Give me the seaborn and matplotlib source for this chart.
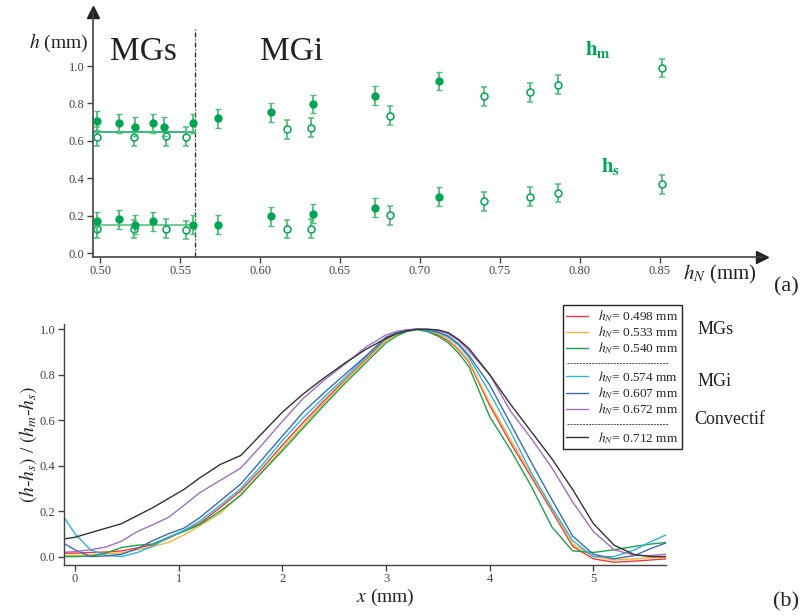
import numpy as np
import pandas as pd
import matplotlib
matplotlib.use("Agg")
import matplotlib.pyplot as plt
from matplotlib.lines import Line2D
import seaborn as sns

# ---------------- panel (a) : h_m et h_s en fonction de h_N ----------------
HN_PLEIN = [0.498, 0.512, 0.522, 0.533, 0.540, 0.558, 0.574, 0.607, 0.633, 0.672, 0.712]
HM_PLEIN = [0.707, 0.693, 0.675, 0.693, 0.675, 0.693, 0.721, 0.753, 0.797, 0.842, 0.920]
HN_PLEIN_S = [0.498, 0.512, 0.522, 0.533, 0.558, 0.574, 0.607, 0.633, 0.672, 0.712]
HS_PLEIN = [0.169, 0.181, 0.151, 0.169, 0.151, 0.151, 0.197, 0.210, 0.242, 0.301]

HN_VIDE = [0.498, 0.521, 0.541, 0.554, 0.617, 0.632, 0.681, 0.740, 0.769, 0.786, 0.851]
HM_VIDE = [0.622, 0.622, 0.625, 0.622, 0.661, 0.671, 0.734, 0.838, 0.859, 0.900, 0.989]
HS_VIDE = [0.128, 0.128, 0.131, 0.124, 0.128, 0.131, 0.202, 0.276, 0.301, 0.321, 0.367]

ERREUR = 0.05
HM_MOYEN = 0.65
HS_MOYEN = 0.15
HN_SEUIL = 0.5595

# ---------------- panel (b) : profils normalises ----------------
X_MM = [-0.1, 0.0, 0.15, 0.3, 0.45, 0.6, 0.75, 0.9, 1.05, 1.2, 1.4, 1.6, 1.8, 2.0,
        2.2, 2.4, 2.6, 2.8, 3.0, 3.1, 3.2, 3.3, 3.4, 3.5, 3.6, 3.7, 3.8, 4.0, 4.2,
        4.4, 4.6, 4.8, 5.0, 5.2, 5.4, 5.55, 5.7]

P_0498 = [0.015, 0.015, 0.018, 0.020, 0.025, 0.038, 0.052, 0.080, 0.115, 0.145, 0.215,
          0.290, 0.385, 0.490, 0.590, 0.685, 0.775, 0.865, 0.955, 0.980, 0.995, 1.000,
          0.990, 0.975, 0.950, 0.910, 0.855, 0.665, 0.500, 0.350, 0.200, 0.045, -0.010,
          -0.025, -0.020, -0.015, -0.010]
P_0533 = [0.005, 0.005, 0.008, 0.012, 0.016, 0.030, 0.044, 0.062, 0.095, 0.135, 0.190,
          0.275, 0.370, 0.475, 0.575, 0.675, 0.770, 0.860, 0.950, 0.978, 0.993, 1.000,
          0.995, 0.980, 0.955, 0.915, 0.860, 0.675, 0.515, 0.360, 0.210, 0.055, 0.000,
          -0.015, -0.010, -0.005, -0.003]
P_0540 = [0.000, 0.000, 0.002, 0.015, 0.040, 0.050, 0.055, 0.085, 0.110, 0.140, 0.200,
          0.270, 0.370, 0.465, 0.565, 0.665, 0.760, 0.850, 0.940, 0.970, 0.990, 0.998,
          0.990, 0.970, 0.940, 0.895, 0.835, 0.615, 0.470, 0.310, 0.130, 0.025, 0.018,
          0.030, 0.045, 0.055, 0.062]
P_0574 = [0.169, 0.100, 0.030, 0.005, 0.000, 0.018, 0.045, 0.085, 0.115, 0.155, 0.225,
          0.300, 0.400, 0.510, 0.610, 0.700, 0.785, 0.875, 0.960, 0.983, 0.996, 1.000,
          0.995, 0.985, 0.965, 0.930, 0.875, 0.720, 0.550, 0.370, 0.215, 0.070, 0.000,
          0.000, 0.030, 0.065, 0.095]
P_0607 = [0.056, 0.030, 0.000, 0.003, 0.010, 0.035, 0.070, 0.100, 0.125, 0.170, 0.245,
          0.320, 0.425, 0.530, 0.635, 0.720, 0.800, 0.880, 0.965, 0.985, 0.997, 1.000,
          0.998, 0.988, 0.970, 0.935, 0.885, 0.755, 0.585, 0.415, 0.250, 0.090, 0.010,
          -0.010, 0.005, 0.035, 0.060]
P_0672 = [0.019, 0.022, 0.030, 0.042, 0.068, 0.110, 0.140, 0.172, 0.225, 0.280, 0.335,
          0.390, 0.490, 0.595, 0.695, 0.775, 0.845, 0.920, 0.975, 0.990, 0.998, 1.000,
          1.000, 0.995, 0.980, 0.950, 0.905, 0.800, 0.640, 0.520, 0.390, 0.240, 0.110,
          0.030, 0.005, 0.005, 0.010]
P_0712 = [0.078, 0.085, 0.105, 0.125, 0.145, 0.180, 0.215, 0.255, 0.295, 0.345, 0.405,
          0.445, 0.540, 0.635, 0.715, 0.785, 0.850, 0.910, 0.960, 0.980, 0.993, 1.000,
          1.000, 0.997, 0.985, 0.955, 0.915, 0.800, 0.670, 0.550, 0.430, 0.295, 0.145,
          0.050, 0.008, 0.000, 0.000]

LABELS = ["0.498", "0.533", "0.540", "0.574", "0.607", "0.672", "0.712"]
PROFILS = [P_0498, P_0533, P_0540, P_0574, P_0607, P_0672, P_0712]
COULEURS = ["#ee3a3a", "#f7b23b", "#1ba34a", "#2bb5e6", "#3a6db5", "#a56cc1", "#333333"]

VERT = "#00a551"
VERT_CLAIR = "#4cbf78"

sns.set_theme(style="ticks")
plt.rcParams["font.family"] = ["Liberation Serif", "DejaVu Serif"]
plt.rcParams["mathtext.fontset"] = "stix"
plt.rcParams["axes.edgecolor"] = "#444444"
plt.rcParams["xtick.color"] = "#444444"
plt.rcParams["ytick.color"] = "#444444"

fig = plt.figure(figsize=(8.02, 6.15), dpi=100)
W, H = 802, 615

# ---------------- (a) ----------------
ax1 = fig.add_axes([93 / W, 1 - 257 / H, (762 - 93) / W, (257 - 12) / H])
ax1.set_xlim(0.4956, 0.9138)
ax1.set_ylim(-0.021, 1.289)

ax1.plot([0.4956, HN_SEUIL], [HM_MOYEN, HM_MOYEN], color=VERT, lw=1.1, zorder=1)
ax1.plot([0.4956, HN_SEUIL], [HS_MOYEN, HS_MOYEN], color=VERT_CLAIR, lw=1.1, zorder=1)
ax1.plot([HN_SEUIL, HN_SEUIL], [-0.021, 1.198], color="#222222", lw=0.9,
         linestyle=(0, (4, 1.5, 1, 1.5)), zorder=1)

for hn, h in [(HN_VIDE, HM_VIDE), (HN_VIDE, HS_VIDE)]:
    ax1.errorbar(hn, h, yerr=ERREUR, fmt="o", ms=5, mfc="white", mec=VERT, mew=1.1,
                 ecolor=VERT_CLAIR, elinewidth=1.3, capsize=2.5, capthick=1.1, zorder=3)
for hn, h in [(HN_PLEIN, HM_PLEIN), (HN_PLEIN_S, HS_PLEIN)]:
    ax1.errorbar(hn, h, yerr=ERREUR, fmt="o", ms=5, mfc=VERT, mec=VERT, mew=1.0,
                 ecolor=VERT_CLAIR, elinewidth=1.3, capsize=2.5, capthick=1.1, zorder=4)

ax1.set_xticks([0.50, 0.55, 0.60, 0.65, 0.70, 0.75, 0.80, 0.85])
ax1.set_xticklabels(["0.50", "0.55", "0.60", "0.65", "0.70", "0.75", "0.80", "0.85"])
ax1.set_yticks([0.0, 0.2, 0.4, 0.6, 0.8, 1.0])
ax1.set_yticklabels(["0.0", "0.2", "0.4", "0.6", "0.8", "1.0"])
ax1.tick_params(labelsize=9, length=4, width=1, pad=2)
sns.despine(ax=ax1)
for s in ["left", "bottom"]:
    ax1.spines[s].set_linewidth(1.2)
ax1.plot(1, 0, ">", color="#222222", ms=8, transform=ax1.transAxes, clip_on=False)
ax1.plot(0, 1, "^", color="#222222", ms=8, transform=ax1.transAxes, clip_on=False)

fig.text(88 / W, 1 - 43 / H, r"$h$ (mm)", ha="right", va="center", fontsize=14, color="#222222")
fig.text(143 / W, 1 - 52 / H, "MGs", ha="center", va="center", fontsize=24, color="#222222")
fig.text(292 / W, 1 - 52 / H, "MGi", ha="center", va="center", fontsize=24, color="#222222")
fig.text(598 / W, 1 - 50 / H, r"$\mathbf{h_m}$", ha="center", va="center", fontsize=15, color=VERT)
fig.text(611 / W, 1 - 167 / H, r"$\mathbf{h_s}$", ha="center", va="center", fontsize=15, color=VERT)
fig.text(720 / W, 1 - 274 / H, r"$h_N$ (mm)", ha="center", va="center", fontsize=15, color="#222222")
fig.text(786 / W, 1 - 287 / H, "(a)", ha="center", va="center", fontsize=16, color="#222222")

# ---------------- (b) ----------------
ax2 = fig.add_axes([64 / W, 1 - 565 / H, (666 - 64) / W, (565 - 324) / H])
lignes = []
for lab, prof in zip(LABELS, PROFILS):
    lignes.append(pd.DataFrame({"x": X_MM, "y": prof, "hN": lab}))
df = pd.concat(lignes, ignore_index=True)
sns.lineplot(data=df, x="x", y="y", hue="hN", hue_order=LABELS,
             palette=dict(zip(LABELS, COULEURS)), estimator=None, sort=False,
             linewidth=1.0, legend=False, ax=ax2)

ax2.set_xlim(-0.106, 5.70)
ax2.set_ylim(-0.037, 1.023)
ax2.set_xticks([0, 1, 2, 3, 4, 5])
ax2.set_yticks([0.0, 0.2, 0.4, 0.6, 0.8, 1.0])
ax2.set_yticklabels(["0.0", "0.2", "0.4", "0.6", "0.8", "1.0"])
ax2.set_xlabel("")
ax2.set_ylabel("")
ax2.tick_params(labelsize=9, length=4, width=1, pad=2)
sns.despine(ax=ax2)
for s in ["left", "bottom"]:
    ax2.spines[s].set_linewidth(1.0)

# legende avec separateurs
handles, labels = [], []
groupes = [LABELS[:3], LABELS[3:6], LABELS[6:]]
for gi, grp in enumerate(groupes):
    if gi > 0:
        handles.append(Line2D([], [], linestyle="none"))
        labels.append(" ")
    for lab in grp:
        c = COULEURS[LABELS.index(lab)]
        handles.append(Line2D([], [], color=c, lw=1.0))
        labels.append(r"$h_N$= " + lab + " mm")
leg = ax2.legend(handles, labels, loc="upper left",
                 bbox_to_anchor=(563 / W, 1 - 305 / H), bbox_transform=fig.transFigure,
                 borderaxespad=0, fontsize=9.6, frameon=True, fancybox=False,
                 edgecolor="#222222", framealpha=1, handlelength=1.6, handletextpad=0.8,
                 labelspacing=0.02, borderpad=0.25)
leg.get_frame().set_linewidth(1.0)

fig.canvas.draw()
renderer = fig.canvas.get_renderer()
cadre = leg.get_frame().get_window_extent(renderer)
textes = leg.get_texts()
for i, t in enumerate(textes):
    if labels[i] == " ":
        bb = t.get_window_extent(renderer)
        yc = (bb.y0 + bb.y1) / 2 / (H)
        x0 = (cadre.x0 + 4) / W
        x1 = (cadre.x1 - 14) / W
        fig.add_artist(Line2D([x0, x1], [yc, yc], transform=fig.transFigure,
                              color="#333333", lw=0.6, linestyle=(0, (2.5, 1.2))))

fig.text(698 / W, 1 - 330 / H, "MGs", ha="left", va="center", fontsize=13, color="#222222")
fig.text(698 / W, 1 - 382 / H, "MGi", ha="left", va="center", fontsize=13, color="#222222")
fig.text(694 / W, 1 - 419 / H, "Convectif", ha="left", va="center", fontsize=13, color="#222222")

fig.text(385 / W, 1 - 597 / H, r"$x$ (mm)", ha="center", va="center", fontsize=14, color="#222222")
fig.text(28 / W, 1 - 444 / H, r"$(h$-$h_s)$ / $(h_m$-$h_s)$", ha="center", va="center",
         rotation=90, fontsize=14, color="#222222")
fig.text(786 / W, 1 - 602 / H, "(b)", ha="center", va="center", fontsize=16, color="#222222")

fig.savefig("out.png", dpi=100)
